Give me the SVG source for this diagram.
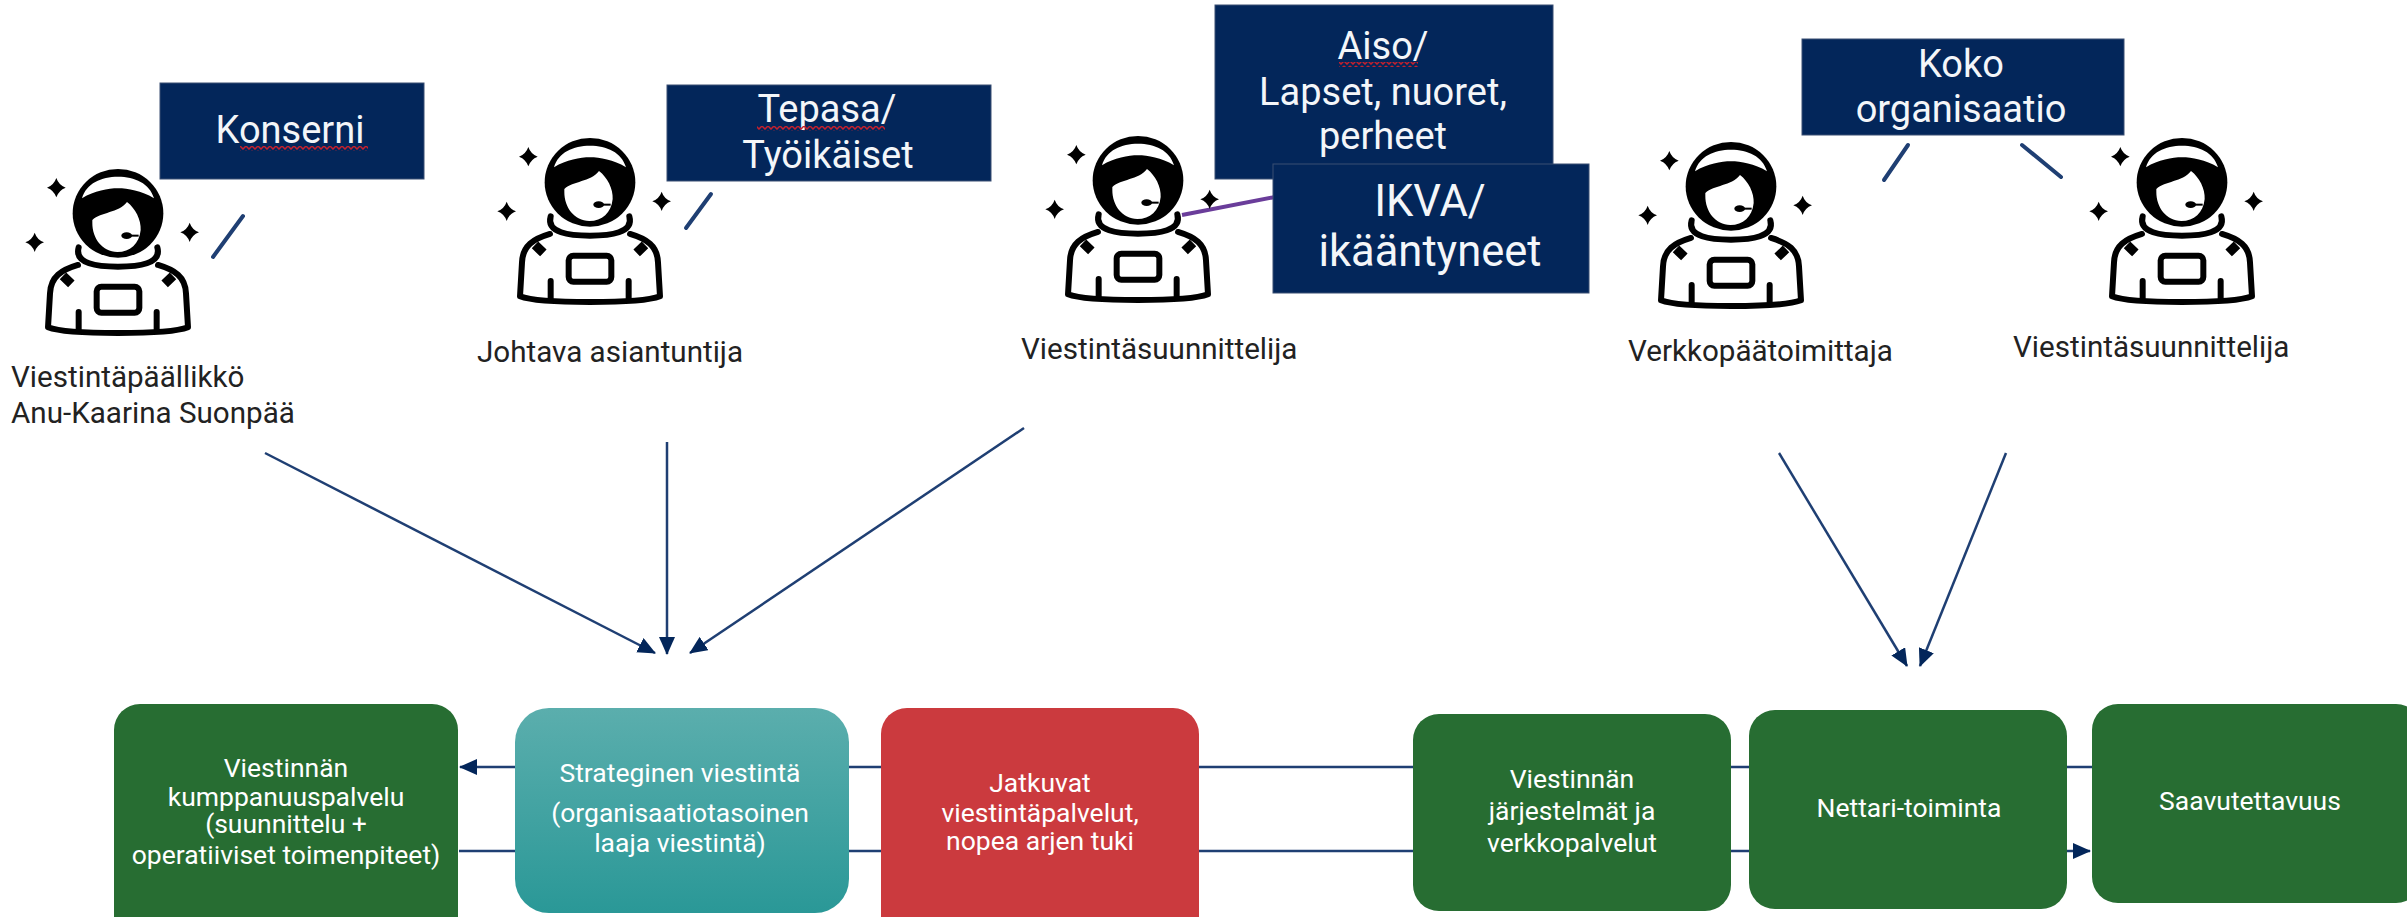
<svg xmlns="http://www.w3.org/2000/svg" width="2407" height="917" viewBox="0 0 2407 917">
<style>
text{font-family:Roboto,"Liberation Sans",sans-serif}
.tag{fill:#03265a;stroke:#3a4f73;stroke-width:1}
.tt{fill:#f4f6f9;text-anchor:middle;font-size:38px}
.big{font-size:43.5px}
.lab{fill:#222;font-size:29.6px}
.svc{fill:#276d32}
.st{fill:#fff;text-anchor:middle;font-size:26.5px}
.ln{stroke:#1f3f73;stroke-width:2.5;fill:none}
.tick{stroke:#1f3f73;stroke-width:4;fill:none;stroke-linecap:round}
.squig{fill:url(#sq)}
.k{stroke:#000;fill:#fff;stroke-width:18;stroke-linecap:round;stroke-linejoin:round}
</style>
<defs>
<marker id="ah" markerUnits="userSpaceOnUse" markerWidth="18" markerHeight="16" refX="17" refY="8" orient="auto">
<path d="M0,0L18,8L0,16z" fill="#03265a"/>
</marker>
<pattern id="sq" patternUnits="userSpaceOnUse" width="6" height="5">
<path d="M0,1L3,4L6,1" fill="none" stroke="#c8202c" stroke-width="1.5"/>
</pattern>
<linearGradient id="teal" x1="0" y1="0" x2="0" y2="1">
<stop offset="0" stop-color="#5baead"/><stop offset="1" stop-color="#2a9897"/>
</linearGradient>
<path id="star" d="M0,-29Q7,-8 28,0Q7,8 0,29Q-7,8 -28,0Q-7,-8 0,-29z" fill="#000"/>
<g id="astro" transform="scale(0.3333)">
<use href="#star" x="-185" y="53"/>
<use href="#star" x="-250" y="217"/>
<use href="#star" x="215" y="187"/>
<path class="k" d="M-120,285C-170,300 -202,320 -204,370L-210,472C-150,495 150,495 210,472L204,370C202,320 170,300 120,285"/>
<path d="M-165,318L-140,342M165,318L140,342" stroke="#000" stroke-width="28" fill="none"/>
<path class="k" d="M-118,232C-132,282 -60,290 0,290C60,290 132,282 118,232" stroke-width="22"/>
<ellipse cx="0" cy="130" rx="136" ry="133" fill="#000"/>
<path d="M-108,85C-95,40 -50,20 0,20C50,20 95,40 108,85C70,62 30,55 0,55C-30,55 -70,62 -108,85z" fill="#fff"/>
<path d="M-77,150C-50,125 0,130 27,96C52,115 70,150 68,180C64,222 36,246 -2,246C-47,246 -77,205 -77,160z" fill="#fff"/>
<ellipse cx="26" cy="197" rx="16" ry="10" fill="#000"/>
<path d="M26,197H62" stroke="#000" stroke-width="6"/>
<rect class="k" x="-64" y="350" width="128" height="78" rx="14"/>
<path class="k" d="M-118,426V478M116,426V478"/>
</g>
</defs>

<g id="connectors">
<line class="ln" x1="265" y1="453" x2="655" y2="653" marker-end="url(#ah)"/>
<line class="ln" x1="667" y1="442" x2="667" y2="654" marker-end="url(#ah)"/>
<line class="ln" x1="1024" y1="428" x2="690" y2="653" marker-end="url(#ah)"/>
<line class="ln" x1="1779" y1="453" x2="1907" y2="666" marker-end="url(#ah)"/>
<line class="ln" x1="2006" y1="453" x2="1920" y2="666" marker-end="url(#ah)"/>
<line class="ln" x1="2092" y1="767" x2="460" y2="767" marker-end="url(#ah)"/>
<line class="ln" x1="459" y1="851" x2="2090" y2="851" marker-end="url(#ah)"/>
<line class="tick" x1="213" y1="257" x2="243" y2="216"/>
<line class="tick" x1="686" y1="228" x2="711" y2="194"/>
<line x1="1182" y1="215" x2="1275" y2="197" stroke="#6a3d9a" stroke-width="4"/>
<line class="tick" x1="1884" y1="180" x2="1908" y2="145"/>
<line class="tick" x1="2022" y1="145" x2="2061" y2="177"/>
</g>

<g id="person-paallikko">
<use href="#astro" x="118" y="170"/>
<text class="lab" x="11" y="387">Viestintäpäällikkö</text>
<text class="lab" x="11" y="423">Anu-Kaarina Suonpää</text>
</g>
<g id="tag-konserni">
<rect class="tag" x="160" y="83" width="264" height="96"/>
<text class="tt" x="290" y="143">Konserni</text>
<rect class="squig" x="240" y="146" width="128" height="5"/>
</g>

<g id="person-johtava">
<use href="#astro" x="590" y="139"/>
<text class="lab" x="477" y="362">Johtava asiantuntija</text>
</g>
<g id="tag-tepasa">
<rect class="tag" x="667" y="85" width="324" height="96"/>
<text class="tt" x="827" y="122">Tepasa/</text>
<text class="tt" x="828" y="168">Työikäiset</text>
<rect class="squig" x="757" y="126" width="128" height="5"/>
</g>

<g id="person-suunnittelija1">
<use href="#astro" x="1138" y="137"/>
<text class="lab" x="1021" y="359">Viestintäsuunnittelija</text>
</g>
<g id="tag-aiso">
<rect class="tag" x="1215" y="5" width="338" height="174"/>
<text class="tt" x="1383" y="59">Aiso/</text>
<text class="tt" x="1383" y="105">Lapset, nuoret,</text>
<text class="tt" x="1383" y="149">perheet</text>
<rect class="squig" x="1339" y="62" width="79" height="5"/>
</g>
<g id="tag-ikva">
<rect class="tag" x="1273" y="164" width="316" height="129"/>
<text class="tt big" x="1430" y="216">IKVA/</text>
<text class="tt big" x="1430" y="266">ikääntyneet</text>
</g>

<g id="person-verkkopaatoimittaja">
<use href="#astro" x="1731" y="143"/>
<text class="lab" x="1628" y="361">Verkkopäätoimittaja</text>
</g>
<g id="person-suunnittelija2">
<use href="#astro" x="2182" y="139"/>
<text class="lab" x="2013" y="357">Viestintäsuunnittelija</text>
</g>
<g id="tag-koko">
<rect class="tag" x="1802" y="39" width="322" height="96"/>
<text class="tt" x="1961" y="77">Koko</text>
<text class="tt" x="1961" y="122">organisaatio</text>
</g>

<g id="svc-kumppanuus">
<rect class="svc" x="114" y="704" width="344" height="240" rx="26"/>
<text class="st" x="286" y="777">Viestinnän</text>
<text class="st" x="286" y="806">kumppanuuspalvelu</text>
<text class="st" x="286" y="833">(suunnittelu +</text>
<text class="st" x="286" y="864">operatiiviset toimenpiteet)</text>
</g>
<g id="svc-strateginen">
<rect x="515" y="708" width="334" height="205" rx="34" fill="url(#teal)"/>
<text class="st" x="680" y="782">Strateginen viestintä</text>
<text class="st" x="680" y="822">(organisaatiotasoinen</text>
<text class="st" x="680" y="852">laaja viestintä)</text>
</g>
<g id="svc-jatkuvat">
<rect x="881" y="708" width="318" height="240" rx="26" fill="#cb3a3e"/>
<text class="st" x="1040" y="792">Jatkuvat</text>
<text class="st" x="1040" y="822">viestintäpalvelut,</text>
<text class="st" x="1040" y="850">nopea arjen tuki</text>
</g>
<g id="svc-jarjestelmat">
<rect class="svc" x="1413" y="714" width="318" height="197" rx="26"/>
<text class="st" x="1572" y="788">Viestinnän</text>
<text class="st" x="1572" y="820">järjestelmät ja</text>
<text class="st" x="1572" y="852">verkkopalvelut</text>
</g>
<g id="svc-nettari">
<rect class="svc" x="1749" y="710" width="318" height="199" rx="26"/>
<text class="st" x="1909" y="817">Nettari-toiminta</text>
</g>
<g id="svc-saavutettavuus">
<rect class="svc" x="2092" y="704" width="330" height="199" rx="26"/>
<text class="st" x="2250" y="810">Saavutettavuus</text>
</g>
</svg>
